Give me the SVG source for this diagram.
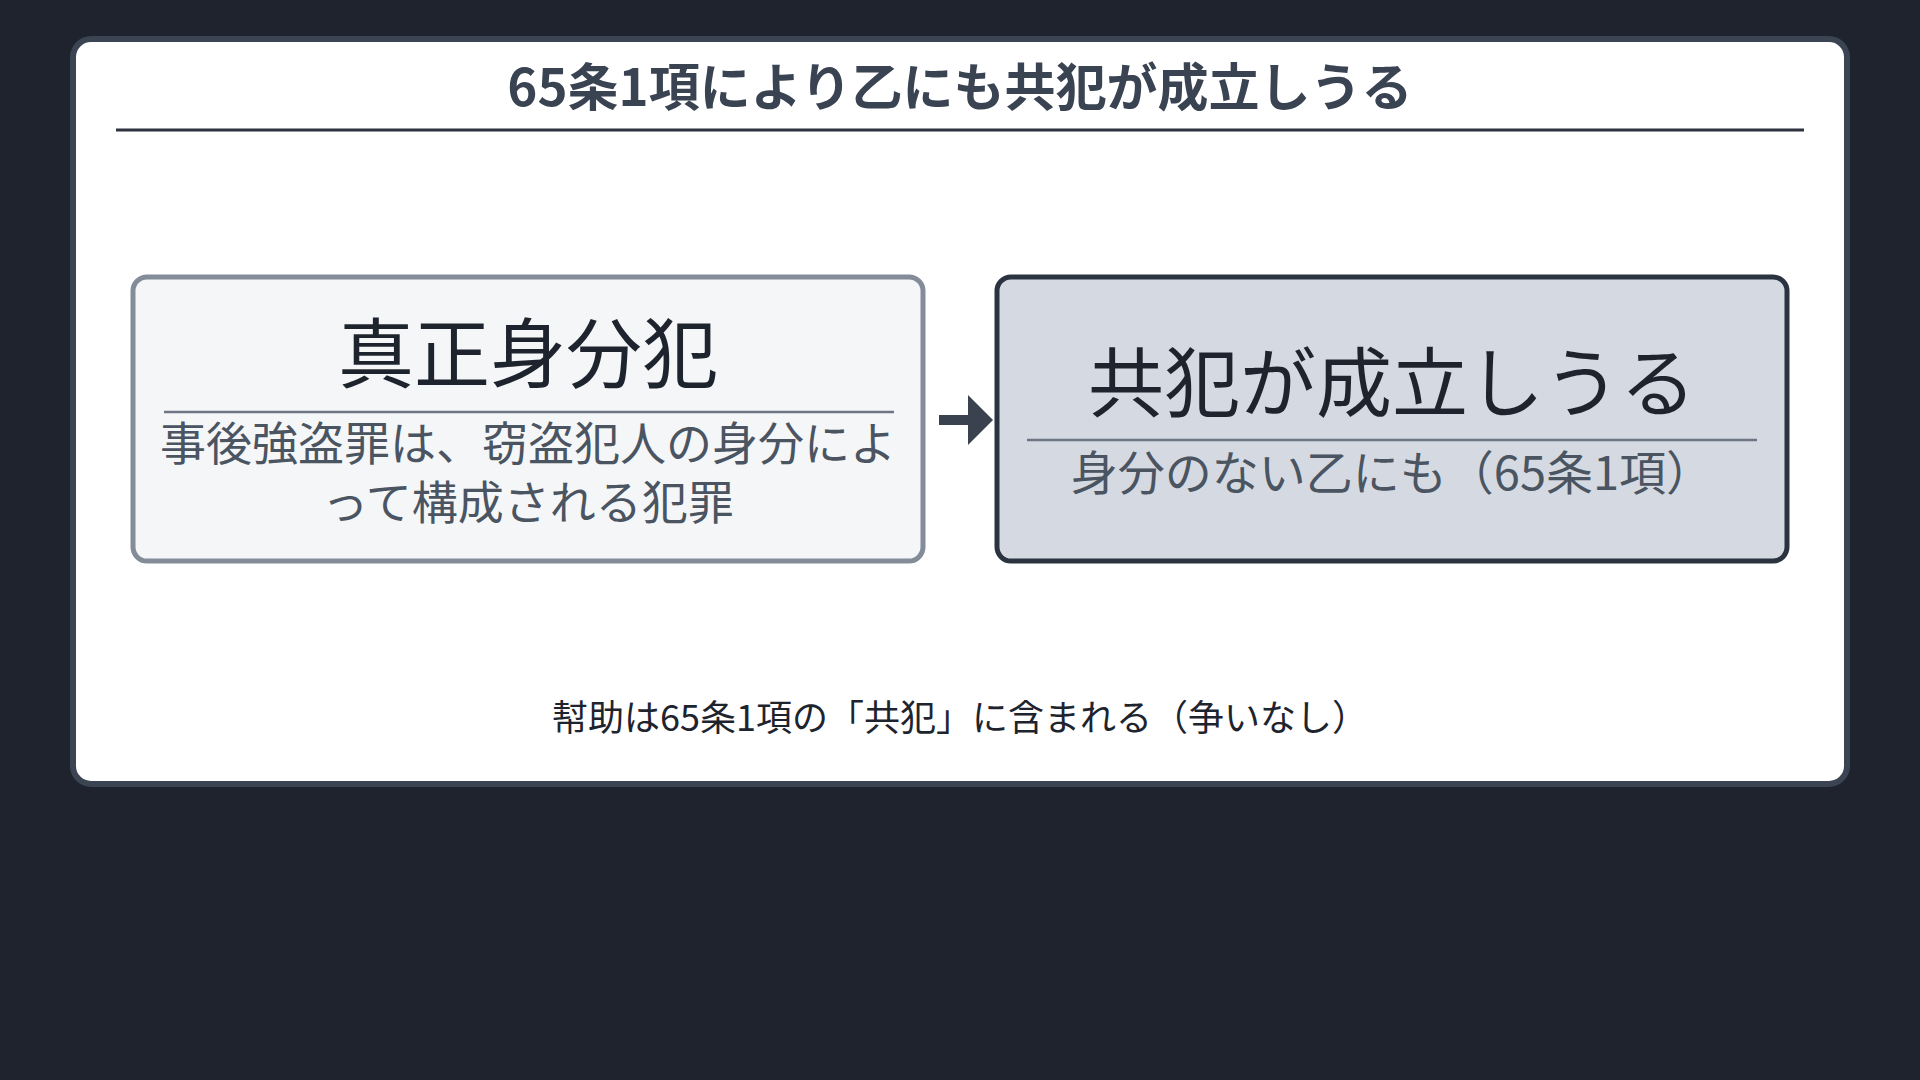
<svg xmlns="http://www.w3.org/2000/svg" width="1920" height="1080" viewBox="0 0 1920 1080">
  <style>
    text { font-family: "Noto Sans CJK JP", "Noto Sans CJK SC", sans-serif; text-anchor: middle; }
    .title { font-size: 51px; font-weight: 700; fill: #3a4352; }
    .main { font-size: 76px; fill: #1e242e; }
    .sub { font-size: 46px; fill: #4b5461; }
    .sub2 { font-size: 47px; fill: #4b5461; }
    .foot { font-size: 36px; fill: #1e242e; }
    .div { stroke: #6e7684; stroke-width: 2.5; }
  </style>
  <defs>
    <marker id="arrowhead" markerUnits="userSpaceOnUse" markerWidth="25" markerHeight="50" viewBox="0 0 25 50" refX="0" refY="25" orient="auto">
      <path d="M0,0 L25,25 L0,50 Z" fill="#3a4250"/>
    </marker>
  </defs>
  <rect x="0" y="0" width="1920" height="1080" fill="#1e232d"/>
  <g id="card">
    <rect x="73" y="39" width="1774" height="745" rx="18" fill="#ffffff" stroke="#3b4452" stroke-width="6"/>
    <text class="title" x="960" y="106">65条1項により乙にも共犯が成立しうる</text>
    <line x1="116" y1="130" x2="1804" y2="130" stroke="#2d3440" stroke-width="3"/>
  </g>
  <g id="node-left">
    <rect x="133" y="277" width="790" height="284" rx="14" fill="#f4f6f8" stroke="#848c99" stroke-width="5"/>
    <text class="main" x="528" y="382">真正身分犯</text>
    <line class="div" x1="164" y1="412" x2="894" y2="412"/>
    <text class="sub" x="528" y="460"><tspan x="528" y="460">事後強盗罪は、窃盗犯人の身分によ</tspan><tspan x="528" y="519">って構成される犯罪</tspan></text>
  </g>
  <g id="node-right">
    <rect x="997" y="277" width="790" height="284" rx="14" fill="#d5dae2" stroke="#2b3340" stroke-width="5"/>
    <text class="main" x="1392" y="411">共犯が成立しうる</text>
    <line class="div" x1="1027" y1="440" x2="1757" y2="440"/>
    <text class="sub2" x="1392" y="490">身分のない乙にも（65条1項）</text>
  </g>
  <g id="connectors">
    <line x1="939" y1="420" x2="968" y2="420" stroke="#3a4250" stroke-width="10" marker-end="url(#arrowhead)"/>
  </g>
  <g id="footer">
    <text class="foot" x="960" y="731">幇助は65条1項の「共犯」に含まれる（争いなし）</text>
  </g>
</svg>
